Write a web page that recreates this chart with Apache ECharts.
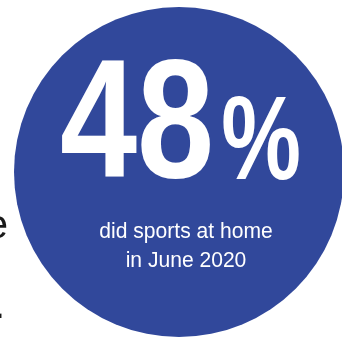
<!DOCTYPE html>
<html>
<head>
<meta charset="utf-8">
<script src="https://cdn.jsdelivr.net/npm/echarts@6/dist/echarts.min.js"></script>
<style>
  html, body { margin: 0; padding: 0; background: #fff; }
  #chart { width: 342px; height: 338px; }
</style>
</head>
<body>
<div id="chart"></div>
<script>
// share of people who did sports at home
const shareValue = [48];
const shareUnit = ['%'];
const captionLines = ['did sports at home', 'in June 2020'];
// cut-off text fragments at the left edge of the slide
const sideFragments = ['e', '.'];

const FONT = 'Liberation Sans';
const BLUE = '#31489b';

function label(text, x, y, size, weight, color, align, scaleX) {
    return {
        type: 'text',
        z: 100,
        x: x, y: y,
        scaleX: scaleX || 1,
        style: {
            text: text,
            fontFamily: FONT,
            fontSize: size,
            fontWeight: weight,
            fill: color,
            textAlign: align,
            textVerticalAlign: 'bottom'
        }
    };
}

const myChart = echarts.init(document.getElementById('chart'));

const option = {
    animation: false,
    series: [
        {
            type: 'pie',
            center: [179, 172],
            radius: [0, 165],
            silent: true,
            label: { show: false },
            labelLine: { show: false },
            itemStyle: { color: BLUE },
            data: [{ value: shareValue[0], name: captionLines.join(' ') }]
        }
    ],
    graphic: [
        label(String(shareValue[0]), 137, 215, 169, 'bold', '#fff', 'center', 0.82),
        label(shareUnit[0], 261, 205, 118, 'bold', '#fff', 'center', 0.76),
        label(captionLines[0], 186, 243, 21.5, 'normal', '#fff', 'center', 0.98),
        label(captionLines[1], 186, 272, 21.5, 'normal', '#fff', 'center', 0.98),
        label(sideFragments[0], 8, 247, 40, 'normal', '#1a1a1a', 'right'),
        label(sideFragments[1], 5, 327, 40, 'normal', '#1a1a1a', 'right')
    ]
};
myChart.setOption(option);
</script>
</body>
</html>
